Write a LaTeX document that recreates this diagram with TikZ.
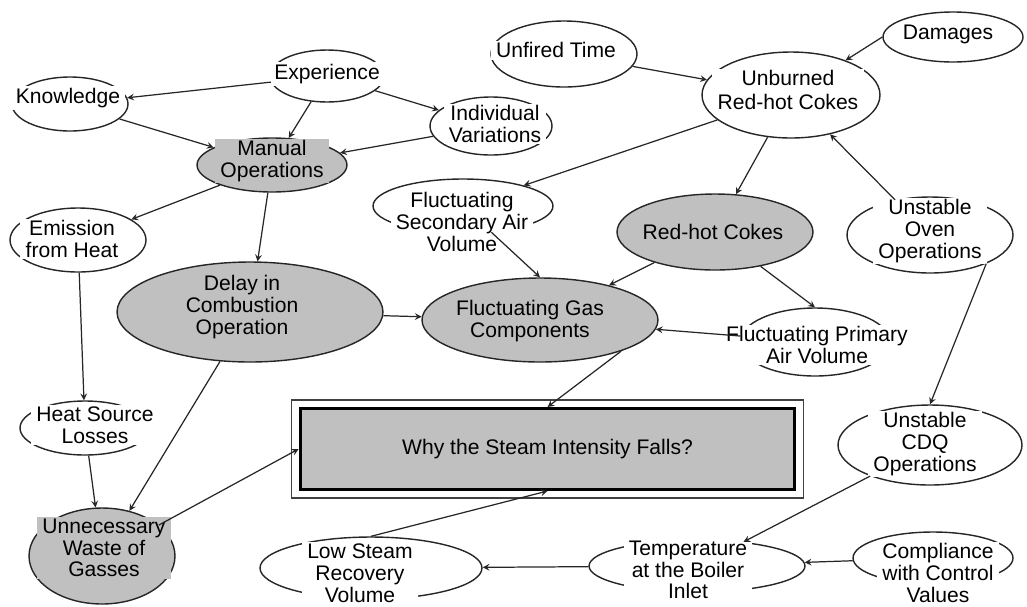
\documentclass[tikz,border=0pt]{standalone}
\usepackage{fontspec}
\setmainfont{Liberation Sans}
\usetikzlibrary{shapes.geometric, arrows}
\definecolor{conceptgray}{RGB}{192,192,192}
\tikzstyle{concept} = [ellipse, draw=black!85, line width=0.8pt, fill=white, inner sep=0pt]
\tikzstyle{core} = [concept, fill=conceptgray]
\tikzstyle{txt} = [rectangle, fill=white, inner xsep=3pt, inner ysep=1pt, align=center, font=\fontsize{12}{12.4}\selectfont]
\tikzstyle{coretxt} = [txt, fill=conceptgray]
\tikzstyle{question} = [rectangle, draw=black, line width=1.7pt, fill=conceptgray, minimum width=9.9cm, minimum height=1.62cm, font=\fontsize{12}{12.4}\selectfont]
\tikzstyle{arrow} = [line width=0.7pt, draw=black!85, ->, >=stealth]

\begin{document}
\begin{tikzpicture}[x=0.02cm, y=-0.02cm]
        \useasboundingbox (0,0) rectangle (1027,606);
        % ellipses
        \node [concept, minimum width=2.28cm, minimum height=1.04cm] at (327,76) (exp) {};
        \node [concept, minimum width=2.32cm, minimum height=1.08cm] at (70,104) (know) {};
        \node [concept, minimum width=2.44cm, minimum height=1.16cm] at (491,126) (indiv) {};
        \node [core, minimum width=3.0cm, minimum height=1.08cm] at (272,165) (manual) {};
        \node [concept, minimum width=2.72cm, minimum height=1.28cm] at (78,240) (emis) {};
        \node [core, minimum width=5.32cm, minimum height=2.0cm] at (250,312) (delay) {};
        \node [concept, minimum width=3.6cm, minimum height=1.08cm] at (463,206) (fsav) {};
        \node [concept, minimum width=2.92cm, minimum height=1.32cm] at (564,54) (unfired) {};
        \node [concept, minimum width=2.8cm, minimum height=1.0cm] at (953,37) (damage) {};
        \node [concept, minimum width=3.56cm, minimum height=1.72cm] at (791,95) (unburn) {};
        \node [core, minimum width=3.92cm, minimum height=1.52cm] at (715,232) (redhot) {};
        \node [concept, minimum width=3.32cm, minimum height=1.52cm] at (930,235) (oven) {};
        \node [core, minimum width=4.72cm, minimum height=1.68cm] at (540,320) (fgas) {};
        \node [concept, minimum width=3.0cm, minimum height=1.36cm] at (815,342) (fpav) {};
        \node [concept, minimum width=2.6cm, minimum height=1.08cm] at (85,428) (heat) {};
        \node [core, minimum width=2.92cm, minimum height=1.92cm] at (102,556) (waste) {};
        \node [concept, minimum width=4.44cm, minimum height=1.24cm] at (371,568) (lowst) {};
        \node [concept, minimum width=4.32cm, minimum height=1.04cm] at (697,566) (temp) {};
        \node [concept, minimum width=3.2cm, minimum height=1.04cm] at (933,558) (compl) {};
        \node [concept, minimum width=3.68cm, minimum height=1.6cm] at (930,445) (cdq) {};
        % texts
        \node [txt] at (327,74) (exp-t) {Experience};
        \node [txt] at (68,98) (know-t) {Knowledge};
        \node [txt] at (495,124) (indiv-t) {Individual\\Variations};
        \node [coretxt] at (272,161) (manual-t) {Manual\\Operations};
        \node [txt] at (72,239) (emis-t) {Emission\\from Heat};
        \node [coretxt] at (242,307) (delay-t) {Delay in\\Combustion\\Operation};
        \node [txt] at (462,222) (fsav-t) {Fluctuating\\Secondary Air\\Volume};
        \node [txt] at (556,50) (unfired-t) {Unfired Time};
        \node [txt] at (948,34) (damage-t) {Damages};
        \node [txt] at (788,90) (unburn-t) {Unburned\\[1pt]Red-hot Cokes};
        \node [coretxt] at (713,232) (redhot-t) {Red-hot Cokes};
        \node [txt] at (930,231) (oven-t) {Unstable\\Oven\\Operations};
        \node [coretxt] at (530,321) (fgas-t) {Fluctuating Gas\\Components};
        \node [txt] at (817,345) (fpav-t) {Fluctuating Primary\\Air Volume};
        \node [txt] at (95,425) (heat-t) {Heat Source\\Losses};
        \node [coretxt] at (104,548) (waste-t) {Unnecessary\\Waste of\\Gasses};
        \node [txt] at (360,573) (lowst-t) {Low Steam\\Recovery\\Volume};
        \node [txt] at (688,570) (temp-t) {Temperature\\at the Boiler\\Inlet};
        \node [txt] at (938,573) (compl-t) {Compliance\\with Control\\Values};
        \node [txt] at (925,444) (cdq-t) {Unstable\\CDQ\\Operations};
        % the question
        \node [question] at (547.5,449) (root) {Why the Steam Intensity Falls?};
        \draw [black!75, line width=0.8pt] ([shift={(-7,-7)}]root.north west) rectangle ([shift={(7,7)}]root.south east);
        % arrows
        \draw [arrow] (exp) -- (know);
        \draw [arrow] (exp) -- (indiv);
        \draw [arrow] (exp) -- (manual);
        \draw [arrow] (know) -- (manual);
        \draw [arrow] (indiv) -- (manual);
        \draw [arrow] (manual) -- (emis);
        \draw [arrow] (manual) -- (delay);
        \draw [arrow] (emis) -- (heat);
        \draw [arrow] (heat) -- (waste);
        \draw [arrow] (delay) -- (waste);
        \draw [arrow] (delay) -- (fgas);
        \draw [arrow] (waste) -- (root.west);
        \draw [arrow] (unfired) -- (unburn);
        \draw [arrow] (damage.west) -- (unburn);
        \draw [arrow] (unburn) -- (fsav);
        \draw [arrow] (unburn) -- (redhot);
        \draw [arrow] (oven) -- (unburn);
        \draw [arrow] (fsav) -- (fgas.north);
        \draw [arrow] (redhot) -- (fgas);
        \draw [arrow] (redhot) -- (fpav.north);
        \draw [arrow] (fpav) -- (fgas);
        \draw [arrow] (fgas.-21) -- (root.north);
        \draw [arrow] (oven.-27) -- (cdq.north);
        \draw [arrow] (cdq) -- (temp);
        \draw [arrow] (compl) -- (temp);
        \draw [arrow] (temp) -- (lowst);
        \draw [arrow] (lowst.north) -- (root.south);
\end{tikzpicture}
\end{document}
